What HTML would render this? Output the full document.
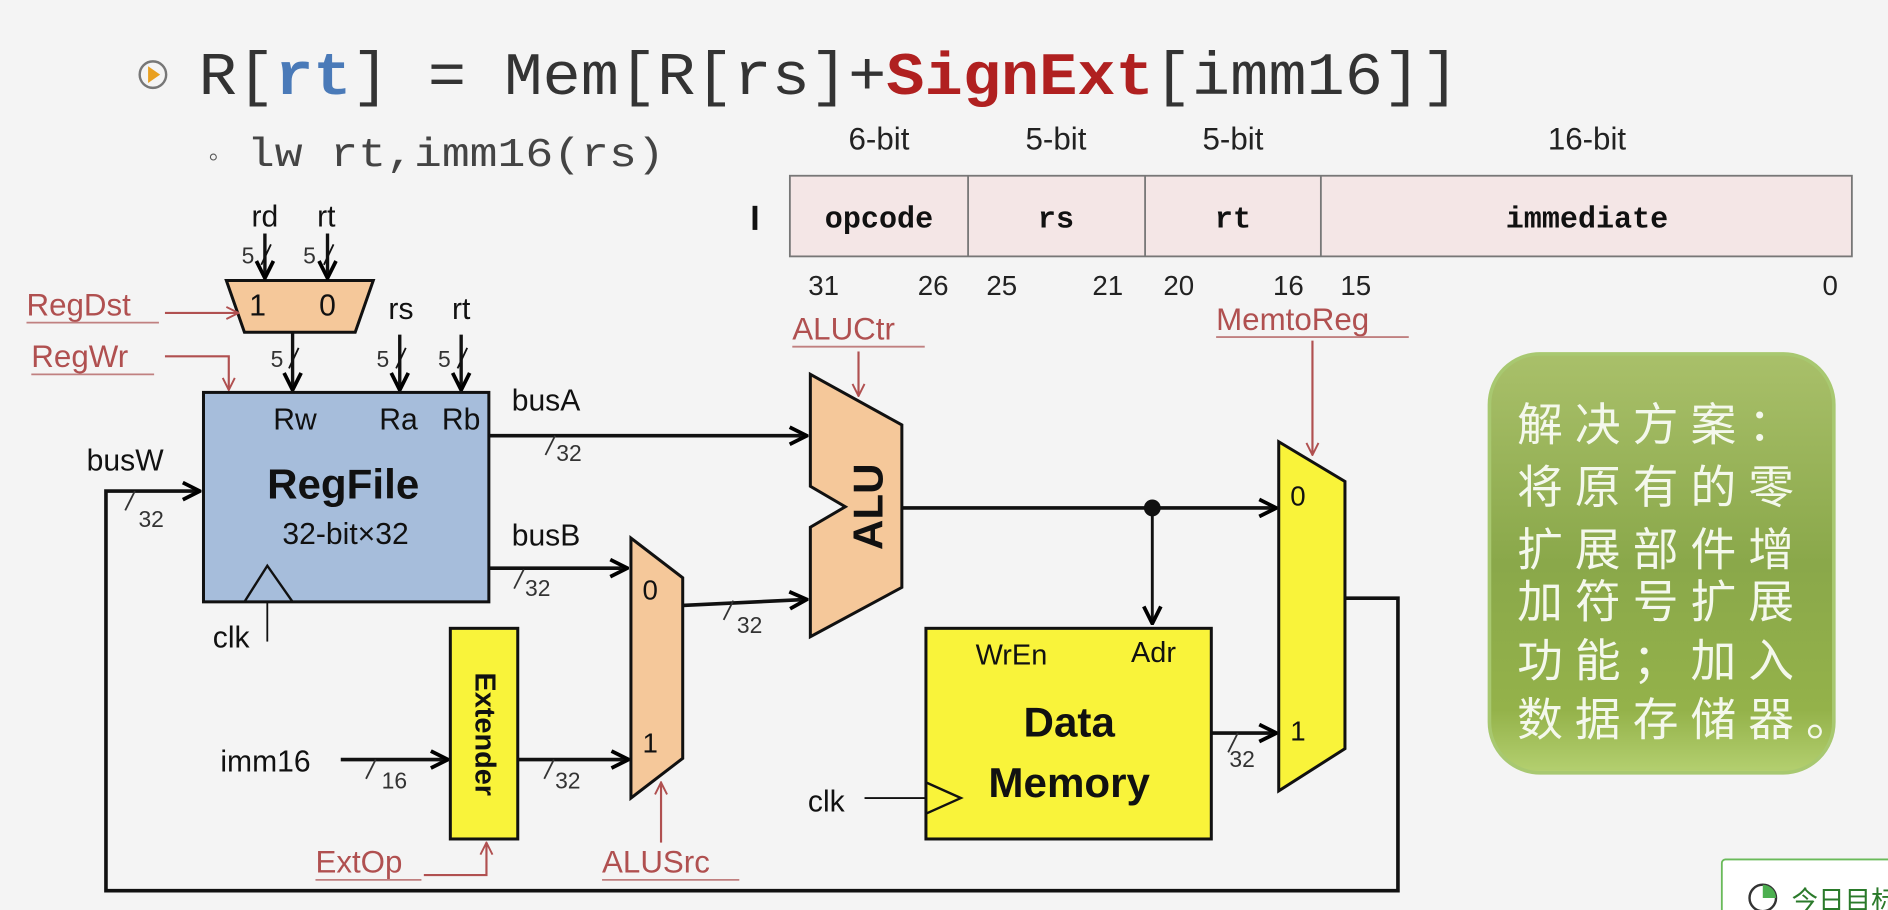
<!DOCTYPE html>
<html><head><meta charset="utf-8"><style>
html,body{margin:0;padding:0;background:#f4f4f4;}
svg{display:block}
</style></head><body>
<svg width="1888" height="910" viewBox="0 0 1568 756" preserveAspectRatio="none" xmlns="http://www.w3.org/2000/svg" font-family="Liberation Sans, sans-serif">
<defs>
<marker id="ah" viewBox="0 0 12 12" refX="11" refY="6" markerWidth="17" markerHeight="17" markerUnits="userSpaceOnUse" orient="auto"><path d="M1,1 L11,6 L1,11" fill="none" stroke="#000" stroke-width="2.2"/></marker>
<marker id="rh" viewBox="0 0 12 12" refX="11" refY="6" markerWidth="12" markerHeight="12" markerUnits="userSpaceOnUse" orient="auto"><path d="M1,1 L11,6 L1,11" fill="none" stroke="#b05050" stroke-width="1.6"/></marker>
<linearGradient id="gg" x1="0" y1="0" x2="0" y2="1"><stop offset="0" stop-color="#a9c06a"/><stop offset="0.5" stop-color="#8aa84a"/><stop offset="0.85" stop-color="#94b24a"/><stop offset="1" stop-color="#b4d070"/></linearGradient>
</defs>
<rect width="1568" height="756" fill="#f4f4f4"/>
<!-- title -->
<circle cx="127" cy="62" r="11" fill="none" stroke="#777" stroke-width="2"/>
<path d="M123,55 L133,62 L123,69Z" fill="#e9a020"/>
<text x="165" y="78" font-family="Liberation Mono, monospace" font-size="50" fill="#333" textLength="1047" lengthAdjust="spacingAndGlyphs">R[<tspan fill="#4a7ab8" font-weight="bold">rt</tspan>] = Mem[R[rs]+<tspan fill="#b02020" font-weight="bold">SignExt</tspan>[imm16]]</text>
<text x="170" y="138" font-family="Liberation Mono, monospace" font-size="24" fill="#555">◦</text>
<text x="205" y="138" font-family="Liberation Mono, monospace" font-size="34" fill="#444" textLength="347" lengthAdjust="spacingAndGlyphs">lw rt,imm16(rs)</text>
<!-- instruction format -->
<g font-size="26" fill="#222" text-anchor="middle">
<text x="730" y="124">6-bit</text><text x="877" y="124">5-bit</text><text x="1024" y="124">5-bit</text><text x="1318" y="124">16-bit</text>
</g>
<rect x="656" y="146" width="882" height="67" fill="#f4e6e6" stroke="#777" stroke-width="1.5"/>
<g stroke="#777" stroke-width="1.5"><line x1="804" y1="146" x2="804" y2="213"/><line x1="951" y1="146" x2="951" y2="213"/><line x1="1097" y1="146" x2="1097" y2="213"/></g>
<g font-family="Liberation Mono, monospace" font-weight="bold" font-size="25" fill="#111" text-anchor="middle">
<text x="730" y="189">opcode</text><text x="877" y="189">rs</text><text x="1024" y="189">rt</text><text x="1318" y="189">immediate</text>
</g>
<rect x="625" y="171" width="4" height="20" fill="#111"/>
<g font-size="23" fill="#222" text-anchor="middle">
<text x="684" y="245">31</text><text x="775" y="245">26</text><text x="832" y="245">25</text><text x="920" y="245">21</text><text x="979" y="245">20</text><text x="1070" y="245">16</text><text x="1126" y="245">15</text><text x="1520" y="245">0</text>
</g>
<!-- RegDst mux -->
<polygon points="188,233 310,233 295,276 203,276" fill="#f5c89a" stroke="#111" stroke-width="2.5"/>
<text x="214" y="262" font-size="25" fill="#111" text-anchor="middle">1</text>
<text x="272" y="262" font-size="25" fill="#111" text-anchor="middle">0</text>
<g font-size="25" fill="#111" text-anchor="middle">
<text x="220" y="188">rd</text><text x="271" y="188">rt</text><text x="333" y="265">rs</text><text x="383" y="265">rt</text>
</g>
<g stroke="#111" stroke-width="2.8" marker-end="url(#ah)">
<line x1="220" y1="194" x2="220" y2="231"/><line x1="272" y1="194" x2="272" y2="231"/>
<line x1="243" y1="277" x2="243" y2="324"/><line x1="332" y1="278" x2="332" y2="324"/><line x1="383" y1="278" x2="383" y2="324"/>
</g>
<g stroke="#111" stroke-width="1.5">
<line x1="217" y1="220" x2="225" y2="203"/><line x1="269" y1="220" x2="277" y2="203"/>
<line x1="240" y1="306" x2="248" y2="289"/><line x1="329" y1="306" x2="337" y2="289"/><line x1="380" y1="306" x2="388" y2="289"/>
</g>
<g font-size="19" fill="#333" text-anchor="middle">
<text x="206" y="219">5</text><text x="257" y="219">5</text><text x="230" y="305">5</text><text x="318" y="305">5</text><text x="369" y="305">5</text>
</g>
<!-- control labels -->
<g font-size="26" fill="#b05050">
<text x="22" y="262">RegDst</text><text x="26" y="305">RegWr</text><text x="658" y="282">ALUCtr</text><text x="1010" y="274">MemtoReg</text><text x="500" y="725">ALUSrc</text><text x="262" y="725">ExtOp</text>
</g>
<g stroke="#c08080" stroke-width="1.5">
<line x1="22" y1="268" x2="132" y2="268"/><line x1="26" y1="311" x2="128" y2="311"/><line x1="658" y1="288" x2="768" y2="288"/><line x1="1010" y1="280" x2="1170" y2="280"/><line x1="500" y1="731" x2="614" y2="731"/><line x1="262" y1="731" x2="350" y2="731"/>
</g>
<g stroke="#b05050" stroke-width="1.8" fill="none" marker-end="url(#rh)">
<line x1="137" y1="260" x2="198" y2="260"/>
<polyline points="137,296 190,296 190,324"/>
<line x1="713" y1="292" x2="713" y2="329"/>
<line x1="1090" y1="283" x2="1090" y2="378"/>
<line x1="549" y1="700" x2="549" y2="650"/>
<polyline points="352,727 404,727 404,700"/>
</g>
<!-- RegFile -->
<rect x="169" y="326" width="237" height="174" fill="#a6bddb" stroke="#111" stroke-width="2.5"/>
<g font-size="25" fill="#111" text-anchor="middle"><text x="245" y="357">Rw</text><text x="331" y="357">Ra</text><text x="383" y="357">Rb</text></g>
<text x="285" y="414" font-size="35" font-weight="bold" fill="#111" text-anchor="middle">RegFile</text>
<text x="287" y="452" font-size="25" fill="#111" text-anchor="middle">32-bit×32</text>
<polyline points="203,500 222,470 243,500" fill="none" stroke="#111" stroke-width="2"/>
<line x1="222" y1="500" x2="222" y2="533" stroke="#111" stroke-width="1.5"/>
<text x="192" y="538" font-size="25" fill="#111" text-anchor="middle">clk</text>
<!-- bus texts -->
<g font-size="25" fill="#111"><text x="425" y="341">busA</text><text x="425" y="453">busB</text><text x="72" y="391">busW</text><text x="183" y="641">imm16</text><text x="671" y="674">clk</text></g>
<!-- wires -->
<g stroke="#111" stroke-width="3" fill="none" marker-end="url(#ah)">
<line x1="406" y1="362" x2="670" y2="362"/>
<line x1="406" y1="472" x2="521" y2="472"/>
<line x1="567" y1="503" x2="670" y2="498"/>
<line x1="748" y1="422" x2="1060" y2="422"/>
<line x1="1006" y1="609" x2="1060" y2="609"/>
<polyline points="1117,497 1161,497 1161,740 88,740 88,408 166,408"/>
<line x1="283" y1="631" x2="372" y2="631"/>
<line x1="430" y1="631" x2="522" y2="631"/>
</g>
<line x1="957" y1="422" x2="957" y2="518" stroke="#111" stroke-width="2.4" marker-end="url(#ah)"/>
<circle cx="957" cy="422" r="7" fill="#111"/>
<line x1="718" y1="663" x2="769" y2="663" stroke="#111" stroke-width="1.5"/>
<g stroke="#333" stroke-width="1.5">
<line x1="453" y1="378" x2="461" y2="362"/><line x1="427" y1="489" x2="435" y2="473"/><line x1="601" y1="515" x2="609" y2="499"/>
<line x1="104" y1="424" x2="112" y2="408"/><line x1="304" y1="647" x2="312" y2="631"/><line x1="452" y1="647" x2="460" y2="631"/><line x1="1020" y1="625" x2="1028" y2="609"/>
</g>
<g font-size="19" fill="#333"><text x="462" y="383">32</text><text x="436" y="495">32</text><text x="612" y="526">32</text><text x="115" y="438">32</text><text x="317" y="655">16</text><text x="461" y="655">32</text><text x="1021" y="637">32</text></g>
<!-- ALU -->
<polygon points="673,311 749,353 749,488 673,529 673,438 702,421 673,404" fill="#f5c89a" stroke="#111" stroke-width="2.5"/>
<text transform="translate(733,421) rotate(-90)" font-size="35" font-weight="bold" fill="#111" text-anchor="middle">ALU</text>
<!-- ALUSrc mux -->
<polygon points="524,447 567,480 567,630 524,663" fill="#f5c89a" stroke="#111" stroke-width="2.5"/>
<text x="540" y="498" font-size="23" fill="#111" text-anchor="middle">0</text>
<text x="540" y="625" font-size="23" fill="#111" text-anchor="middle">1</text>
<!-- Extender -->
<rect x="374" y="522" width="56" height="175" fill="#f9f33a" stroke="#111" stroke-width="2.5"/>
<text transform="translate(395,610) rotate(90)" font-size="24" font-weight="bold" fill="#111" text-anchor="middle">Extender</text>
<!-- Data memory -->
<rect x="769" y="522" width="237" height="175" fill="#f9f33a" stroke="#111" stroke-width="2.5"/>
<g font-size="24" fill="#111" text-anchor="middle"><text x="840" y="552">WrEn</text><text x="958" y="550">Adr</text></g>
<text x="888" y="612" font-size="35" font-weight="bold" fill="#111" text-anchor="middle">Data</text>
<text x="888" y="662" font-size="35" font-weight="bold" fill="#111" text-anchor="middle">Memory</text>
<polyline points="769,650 798,663 769,676" fill="none" stroke="#111" stroke-width="2"/>
<!-- MemtoReg mux -->
<polygon points="1062,367 1117,400 1117,622 1062,657" fill="#f9f33a" stroke="#111" stroke-width="2.5"/>
<text x="1078" y="420" font-size="23" fill="#111" text-anchor="middle">0</text>
<text x="1078" y="615" font-size="23" fill="#111" text-anchor="middle">1</text>
<!-- green box -->
<rect x="1237" y="294" width="286" height="348" rx="42" fill="url(#gg)" stroke="#a8c870" stroke-width="3"/>
<g font-family="Liberation Sans, Noto Sans CJK SC, sans-serif" font-size="38" fill="#f4f8ec" letter-spacing="10">
<text x="1260" y="366">解决方案：</text>
<text x="1260" y="418">将原有的零</text>
<text x="1260" y="470">扩展部件增</text>
<text x="1260" y="513">加符号扩展</text>
<text x="1260" y="562">功能；加入</text>
<text x="1260" y="611">数据存储器。</text>
</g>
<!-- widget -->
<rect x="1430" y="714" width="150" height="60" rx="3" fill="#fff" stroke="#6aba5a" stroke-width="1.5"/>
<circle cx="1464" cy="746" r="11" fill="none" stroke="#333" stroke-width="2"/>
<path d="M1464,735 A11,11 0 0 1 1475,746 L1464,746Z" fill="#4caf50"/>
<text x="1488" y="756" font-family="Liberation Sans, Noto Sans CJK SC, sans-serif" font-size="22" fill="#2a7a2a">今日目标</text>
</svg>
</body></html>
